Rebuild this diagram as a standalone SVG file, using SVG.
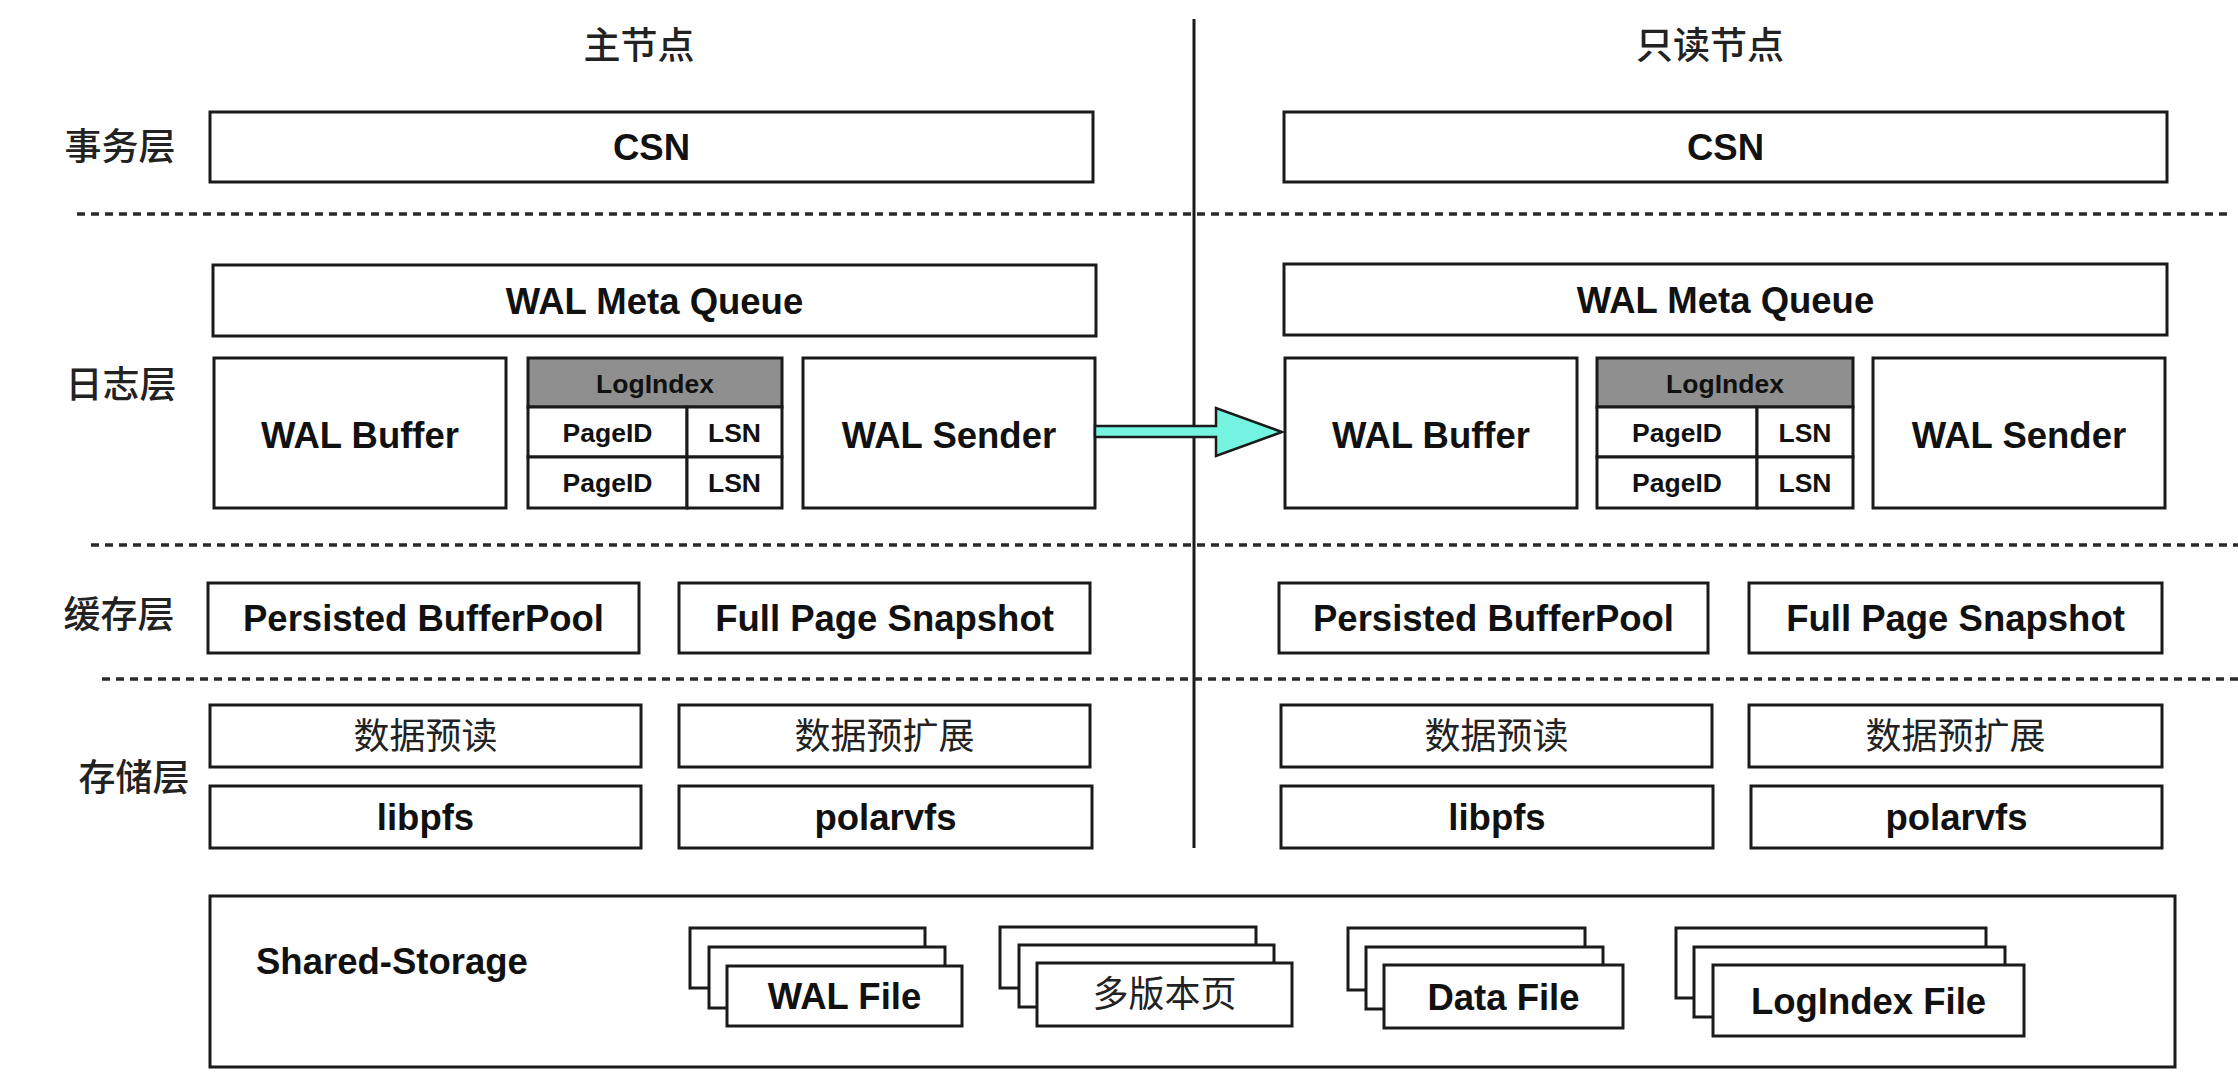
<svg xmlns="http://www.w3.org/2000/svg" width="2238" height="1092" viewBox="0 0 2238 1092">
<style>
.bg{fill:#ffffff}
.box{fill:#ffffff;stroke:#1a1a1a;stroke-width:3}
.hdr{fill:#8f8f8f;stroke:#1a1a1a;stroke-width:3}
.t{font-family:"Liberation Sans",Arial,sans-serif;font-weight:bold;font-size:36.5px;fill:#111;text-anchor:middle}
.ts{font-family:"Liberation Sans",Arial,sans-serif;font-weight:bold;font-size:26.5px;fill:#111;text-anchor:middle}
.cjk{font-family:"Liberation Sans","Noto Sans CJK SC",sans-serif;font-size:36px;fill:#222;text-anchor:middle}
.lbl{font-family:"Liberation Sans","Noto Sans CJK SC",sans-serif;font-size:37px;font-weight:500;fill:#222;text-anchor:middle}
.dash{stroke:#2a2a2a;stroke-width:3.5;stroke-dasharray:8 6;fill:none}
.div{stroke:#1a1a1a;stroke-width:3;fill:none}
.arrow{fill:#74f4e0;stroke:#1a1a1a;stroke-width:2.5;stroke-linejoin:miter}
</style>
<rect class="bg" x="0" y="0" width="2238" height="1092"/>

<g id="layout">
  <line class="div" x1="1194" y1="19" x2="1194" y2="848"/>
  <line class="dash" x1="77" y1="214" x2="2228" y2="214"/>
  <line class="dash" x1="91" y1="545" x2="2238" y2="545"/>
  <line class="dash" x1="102" y1="679" x2="2238" y2="679"/>
  <text class="lbl" x="639" y="59">主节点</text>
  <text class="lbl" x="1710" y="59">只读节点</text>
  <text class="lbl" x="120" y="160">事务层</text>
  <text class="lbl" x="121" y="398">日志层</text>
  <text class="lbl" x="119" y="628">缓存层</text>
  <text class="lbl" x="134" y="791">存储层</text>
</g>

<!-- Primary node -->
<g id="p-csn"><rect class="box" x="210" y="112" width="883" height="70"/><text class="t" x="651.5" y="160">CSN</text></g>
<g id="p-walmeta"><rect class="box" x="213" y="265" width="883" height="71"/><text class="t" x="654.5" y="313.5">WAL Meta Queue</text></g>
<g id="p-walbuf"><rect class="box" x="214" y="358" width="292" height="150"/><text class="t" x="360" y="448">WAL Buffer</text></g>
<g id="p-logindex">
  <rect class="hdr" x="528" y="358" width="254" height="49"/>
  <rect class="box" x="528" y="407" width="159" height="50"/>
  <rect class="box" x="687" y="407" width="95" height="50"/>
  <rect class="box" x="528" y="457" width="159" height="51"/>
  <rect class="box" x="687" y="457" width="95" height="51"/>
  <text class="ts" x="655" y="392.5">LogIndex</text>
  <text class="ts" x="607.5" y="441.5">PageID</text>
  <text class="ts" x="734.5" y="441.5">LSN</text>
  <text class="ts" x="607.5" y="492">PageID</text>
  <text class="ts" x="734.5" y="492">LSN</text>
</g>
<g id="p-walsender"><rect class="box" x="803" y="358" width="292" height="150"/><text class="t" x="949" y="448">WAL Sender</text></g>
<g id="p-bufferpool"><rect class="box" x="208" y="583" width="431" height="70"/><text class="t" x="423.5" y="631">Persisted BufferPool</text></g>
<g id="p-fps"><rect class="box" x="679" y="583" width="411" height="70"/><text class="t" x="884.5" y="631">Full Page Snapshot</text></g>
<g id="p-prefetch"><rect class="box" x="210" y="705" width="431" height="62"/><text class="cjk" x="425.5" y="749">数据预读</text></g>
<g id="p-preextend"><rect class="box" x="679" y="705" width="411" height="62"/><text class="cjk" x="884.5" y="749">数据预扩展</text></g>
<g id="p-libpfs"><rect class="box" x="210" y="786" width="431" height="62"/><text class="t" x="425.5" y="830">libpfs</text></g>
<g id="p-polarvfs"><rect class="box" x="679" y="786" width="413" height="62"/><text class="t" x="885.5" y="830">polarvfs</text></g>

<!-- Read-only node -->
<g id="r-csn"><rect class="box" x="1284" y="112" width="883" height="70"/><text class="t" x="1725.5" y="160">CSN</text></g>
<g id="r-walmeta"><rect class="box" x="1284" y="264" width="883" height="71"/><text class="t" x="1725.5" y="313">WAL Meta Queue</text></g>
<g id="r-walbuf"><rect class="box" x="1285" y="358" width="292" height="150"/><text class="t" x="1431" y="448">WAL Buffer</text></g>
<g id="r-logindex">
  <rect class="hdr" x="1597" y="358" width="256" height="49"/>
  <rect class="box" x="1597" y="407" width="160" height="50"/>
  <rect class="box" x="1757" y="407" width="96" height="50"/>
  <rect class="box" x="1597" y="457" width="160" height="51"/>
  <rect class="box" x="1757" y="457" width="96" height="51"/>
  <text class="ts" x="1725" y="392.5">LogIndex</text>
  <text class="ts" x="1677" y="441.5">PageID</text>
  <text class="ts" x="1805" y="441.5">LSN</text>
  <text class="ts" x="1677" y="492">PageID</text>
  <text class="ts" x="1805" y="492">LSN</text>
</g>
<g id="r-walsender"><rect class="box" x="1873" y="358" width="292" height="150"/><text class="t" x="2019" y="448">WAL Sender</text></g>
<g id="r-bufferpool"><rect class="box" x="1279" y="583" width="429" height="70"/><text class="t" x="1493.5" y="631">Persisted BufferPool</text></g>
<g id="r-fps"><rect class="box" x="1749" y="583" width="413" height="70"/><text class="t" x="1955.5" y="631">Full Page Snapshot</text></g>
<g id="r-prefetch"><rect class="box" x="1281" y="705" width="431" height="62"/><text class="cjk" x="1496.5" y="749">数据预读</text></g>
<g id="r-preextend"><rect class="box" x="1749" y="705" width="413" height="62"/><text class="cjk" x="1955.5" y="749">数据预扩展</text></g>
<g id="r-libpfs"><rect class="box" x="1281" y="786" width="432" height="62"/><text class="t" x="1497" y="830">libpfs</text></g>
<g id="r-polarvfs"><rect class="box" x="1751" y="786" width="411" height="62"/><text class="t" x="1956.5" y="830">polarvfs</text></g>

<!-- Shared storage -->
<g id="shared-storage">
  <rect class="box" x="210" y="896" width="1965" height="171"/>
  <text class="t" x="256" y="974" style="text-anchor:start">Shared-Storage</text>
</g>
<g id="wal-file">
  <rect class="box" x="690" y="928" width="235" height="60"/>
  <rect class="box" x="709" y="947" width="236" height="61"/>
  <rect class="box" x="727" y="966" width="235" height="60"/>
  <text class="t" x="844.5" y="1009">WAL File</text>
</g>
<g id="mv-page">
  <rect class="box" x="1000" y="927" width="256" height="61"/>
  <rect class="box" x="1019" y="945" width="255" height="62"/>
  <rect class="box" x="1037" y="963" width="255" height="63"/>
  <text class="cjk" x="1164.5" y="1007">多版本页</text>
</g>
<g id="data-file">
  <rect class="box" x="1348" y="928" width="237" height="62"/>
  <rect class="box" x="1366" y="947" width="237" height="62"/>
  <rect class="box" x="1384" y="965" width="239" height="63"/>
  <text class="t" x="1503.5" y="1010">Data File</text>
</g>
<g id="logindex-file">
  <rect class="box" x="1676" y="928" width="310" height="70"/>
  <rect class="box" x="1694" y="947" width="311" height="70"/>
  <rect class="box" x="1713" y="965" width="311" height="71"/>
  <text class="t" x="1868.5" y="1014">LogIndex File</text>
</g>

<g id="connectors">
  <polygon class="arrow" points="1095,426 1216,426 1216,408 1282,432 1216,456 1216,437 1095,437"/>
</g>
</svg>
